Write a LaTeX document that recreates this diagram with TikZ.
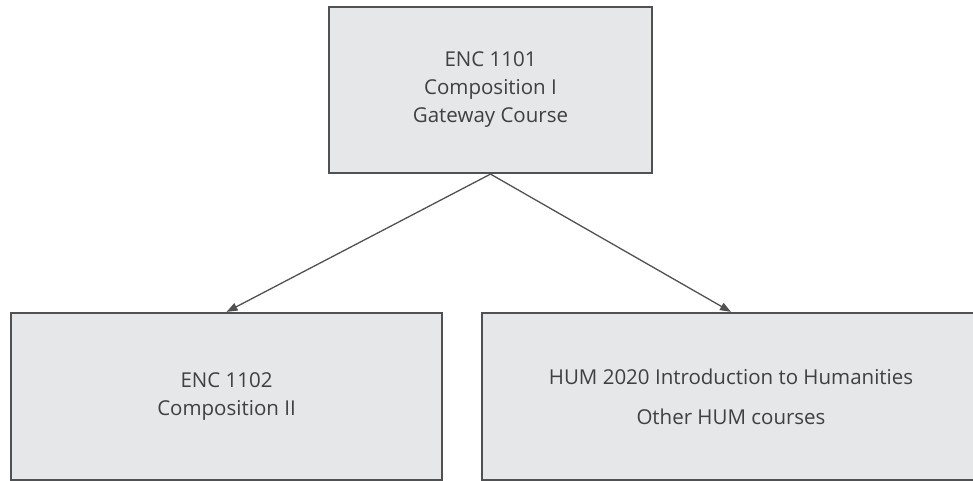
\documentclass[tikz,border=0pt]{standalone}
\usepackage{fontspec}
\setmainfont{Open Sans}
\usetikzlibrary{arrows.meta,positioning}
\definecolor{BoxFill}{HTML}{E6E7E8}
\definecolor{BoxLine}{HTML}{505153}
\definecolor{TextGrey}{HTML}{404041}

\begin{document}
\begin{tikzpicture}[%
    x=1pt, y=1pt,%
    course/.style={draw=BoxLine, line width=2.2pt, fill=BoxFill, text=TextGrey,%
      align=center, inner sep=0pt, font=\fontsize{20.5}{28}\selectfont},%
    link/.style={draw=BoxLine, line width=1.3pt, -{Triangle[length=11pt, width=8pt]}}%
  ]
  \useasboundingbox (0,0) rectangle (973,481);%

  %
  % Cours d'entree
  %
  \node[course, minimum width=323pt, minimum height=166pt] (enc1101) at (490.5,391)%
  {ENC 1101\\Composition I\\Gateway Course};%

  %
  % Cours suivants
  %
  \node[course, minimum width=431pt, minimum height=167pt] (enc1102) at (226.5,84.5)%
  {ENC 1102\\Composition II};%
  \node[course, minimum width=498pt, minimum height=167pt] (hum2020) at (731,84.5)%
  {HUM 2020 Introduction to Humanities\\[12pt]Other HUM courses};%

  % Fleches
  \draw[link] (enc1101.south) -- (enc1102.north);%
  \draw[link] (enc1101.south) -- (hum2020.north);%
\end{tikzpicture}
\end{document}
